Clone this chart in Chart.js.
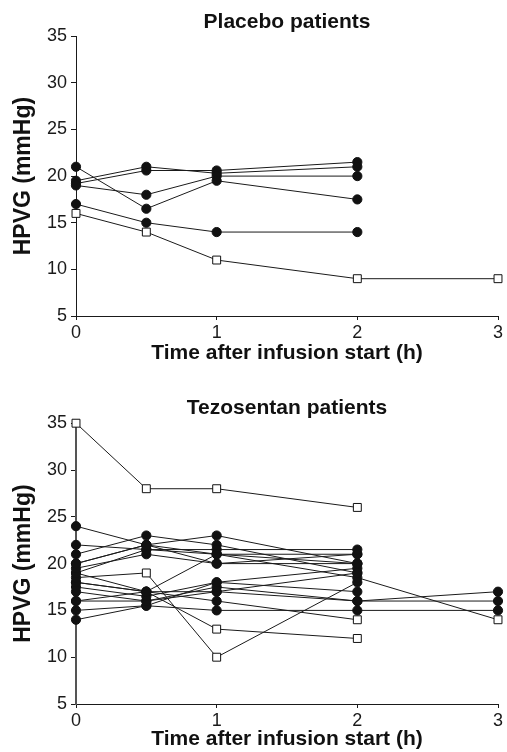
<!DOCTYPE html>
<html>
<head>
<meta charset="utf-8">
<script src="https://cdn.jsdelivr.net/npm/chart.js@4.4.1/dist/chart.umd.min.js"></script>
<style>
  body { margin: 0; background: #fff; }
  canvas { display: block; }
</style>
</head>
<body>
<canvas id="placebo_canvas" width="507" height="376"></canvas>
<canvas id="tezo_canvas" width="507" height="376"></canvas>
<script>
// sampling times (h)
var times = [0, 0.5, 1, 2, 3];
var yTicks = [5, 10, 15, 20, 25, 30, 35];
var xTicks = [0, 1, 2, 3];

// placebo patients, HPVG (mmHg) at each time
var placeboSeries = [
    [16, 14, 11, 9, 9],
    [17, 15, 14, 14, null],
    [21, 16.5, 19.5, 17.5, null],
    [19, 18, 20, 20, null],
    [19.5, 21, 20.3, 21, null],
    [19.2, 20.6, 20.6, 21.5, null]
];
// indexes of points drawn as open squares
var placeboOpen = [
    [0, 1, 2, 3, 4], [], [], [], [], []
];

// tezosentan patients
var tezoSeries = [
    [35, 28, 28, 26, null],
    [24, 22, 21, 20, null],
    [22, 21.5, 21.5, 21.5, null],
    [21, 23, 22, 19, null],
    [20, 22, 23, 20, null],
    [19.5, 21, 20, 21, null],
    [19, 21.5, 21, 18.5, 14],
    [18.5, 19, 10, 18, null],
    [19, 17, 13, 12, null],
    [18, 17, 21, 21, null],
    [17.5, 16.5, 18, 19.5, null],
    [17, 16, 17.5, 16, 17],
    [16, 17, 17, 16, 16],
    [15, 15.5, 15, 15, 15],
    [14, 15.5, 18, 17, null],
    [18, 17, 16, 14, null],
    [20, 22, 20, 20, null],
    [16, 16, 17, 19, null]
];
var tezoOpen = [
    [0, 1, 2, 3], [], [], [], [], [], [4], [1, 2], [2, 3],
    [], [], [], [], [], [], [3], [], []
];

var fontFamily = "'Liberation Sans', Arial, Helvetica, sans-serif";
var ink = '#1a1a1a';

function buildDatasets(series, openPoints) {
    return series.map(function(values, i) {
        var open = openPoints[i];
        return {
            data: values.map(function(v, k) { return { x: times[k], y: v }; }).filter(function(p) { return p.y !== null; }),
            borderColor: ink,
            borderWidth: 1,
            fill: false,
            tension: 0,
            clip: false,
            pointStyle: function(ctx) { return open.indexOf(ctx.dataIndex) >= 0 ? 'rect' : 'circle'; },
            pointRadius: function(ctx) { return open.indexOf(ctx.dataIndex) >= 0 ? 5.6 : 4.6; },
            pointBackgroundColor: function(ctx) { return open.indexOf(ctx.dataIndex) >= 0 ? '#fff' : '#111'; },
            pointBorderColor: '#111',
            pointBorderWidth: 1
        };
    });
}

function makeConfig(title, series, openPoints, opts) {
    return {
        type: 'line',
        data: { datasets: buildDatasets(series, openPoints) },
        options: {
            responsive: false,
            animation: false,
            events: [],
            layout: { padding: { left: 0, right: 9, top: 0, bottom: 0 } },
            plugins: {
                legend: { display: false },
                tooltip: { enabled: false },
                title: {
                    display: true,
                    text: title,
                    fullSize: false,
                    color: '#111',
                    font: { family: fontFamily, size: 21, weight: 'bold', lineHeight: 1.2 },
                    padding: opts.titlePadding
                }
            },
            scales: {
                x: {
                    type: 'linear',
                    min: 0,
                    max: 3,
                    afterBuildTicks: function(scale) { scale.ticks = xTicks.map(function(v) { return { value: v }; }); },
                    afterFit: function(scale) { scale.height = opts.xHeight; },
                    grid: { drawOnChartArea: false, drawTicks: true, tickLength: 4, color: ink },
                    border: { display: true, color: ink, width: 1 },
                    ticks: { color: ink, padding: 2, maxRotation: 0, font: { family: fontFamily, size: 18 } },
                    title: {
                        display: true,
                        text: 'Time after infusion start (h)',
                        color: '#111',
                        font: { family: fontFamily, size: 21, weight: 'bold', lineHeight: 1.2 },
                        padding: { top: 0, bottom: opts.xTitleBottom }
                    }
                },
                y: {
                    min: 5,
                    max: 35,
                    afterBuildTicks: function(scale) { scale.ticks = yTicks.map(function(v) { return { value: v }; }); },
                    afterFit: function(scale) { scale.width = 76; },
                    grid: { drawOnChartArea: false, drawTicks: true, tickLength: 5, color: ink },
                    border: { display: true, color: opts.yAxisColor, width: opts.yAxisWidth },
                    ticks: { color: ink, padding: 4, font: { family: fontFamily, size: 18 } },
                    title: {
                        display: true,
                        text: 'HPVG (mmHg)',
                        color: '#111',
                        font: { family: fontFamily, size: 23, weight: 'bold', lineHeight: 1.2 },
                        padding: { top: 10, bottom: 0 }
                    }
                }
            }
        }
    };
}

var ctx = document.getElementById('placebo_canvas').getContext('2d');
window.placeboChart = new Chart(ctx, makeConfig('Placebo patients', placeboSeries, placeboOpen, {
    titlePadding: { top: 10, bottom: 1 },
    xHeight: 60,
    xTitleBottom: 10,
    yAxisColor: ink,
    yAxisWidth: 1
}));

ctx = document.getElementById('tezo_canvas').getContext('2d');
window.tezoChart = new Chart(ctx, makeConfig('Tezosentan patients', tezoSeries, tezoOpen, {
    titlePadding: { top: 20, bottom: 2 },
    xHeight: 48,
    xTitleBottom: 0,
    yAxisColor: '#555',
    yAxisWidth: 2
}));
</script>
</body>
</html>
